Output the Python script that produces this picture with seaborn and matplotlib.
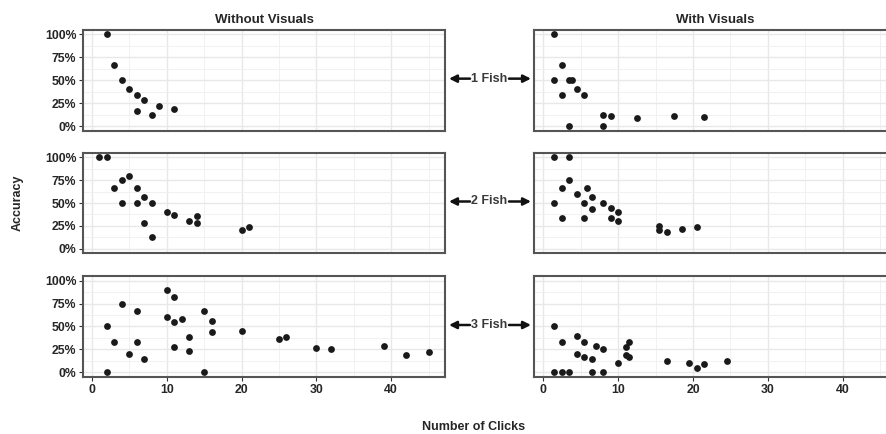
import matplotlib
matplotlib.use("Agg")
import matplotlib.pyplot as plt
import seaborn as sns
import pandas as pd
from matplotlib.ticker import FixedLocator

sns.set_theme(style="white")
plt.rcParams['font.family'] = ['Liberation Sans', 'DejaVu Sans']

# ---------------- data ----------------
conditions = ["Without Visuals", "With Visuals"]
fish_labels = ["1 Fish", "2 Fish", "3 Fish"]
x_ticks = [0, 10, 20, 30, 40]
x_minor = [5, 15, 25, 35, 45]
y_ticks = [0, 0.25, 0.5, 0.75, 1.0]
y_minor = [0.125, 0.375, 0.625, 0.875]
y_tick_labels = ["0%", "25%", "50%", "75%", "100%"]

wo1_clicks = [2, 3, 4, 5, 6, 6, 7, 8, 9, 11]
wo1_acc = [1.0, 0.667, 0.5, 0.4, 0.333, 0.167, 0.286, 0.125, 0.222, 0.182]

wv1_clicks = [1.5, 2.5, 1.5, 3.5, 3.9, 4.5, 2.5, 5.5, 8, 9, 12.5, 17.5, 21.5, 3.5, 8]
wv1_acc = [1.0, 0.667, 0.5, 0.5, 0.5, 0.4, 0.333, 0.333, 0.125, 0.111, 0.083, 0.111, 0.1, 0.0, 0.0]

wo2_clicks = [1, 2, 3, 4, 4, 5, 6, 6, 7, 7, 8, 8, 10, 11, 13, 14, 14, 20, 21]
wo2_acc = [1.0, 1.0, 0.667, 0.75, 0.5, 0.8, 0.667, 0.5, 0.571, 0.286, 0.5, 0.125,
           0.4, 0.364, 0.308, 0.357, 0.286, 0.2, 0.238]

wv2_clicks = [1.5, 3.5, 3.5, 2.5, 4.5, 5.9, 6.5, 1.5, 5.5, 8, 6.5, 9, 10, 2.5, 5.5,
              9, 10, 15.5, 15.5, 16.5, 18.5, 20.5]
wv2_acc = [1.0, 1.0, 0.75, 0.667, 0.6, 0.667, 0.571, 0.5, 0.5, 0.5, 0.429, 0.444,
           0.4, 0.333, 0.333, 0.333, 0.3, 0.25, 0.2, 0.182, 0.211, 0.24]

wo3_clicks = [2, 2, 3, 4, 5, 6, 6, 7, 10, 10, 11, 11, 11, 12, 13, 13, 15, 15, 16, 16,
              20, 25, 26, 30, 32, 39, 42, 45]
wo3_acc = [0.0, 0.5, 0.333, 0.75, 0.2, 0.667, 0.333, 0.143, 0.9, 0.6, 0.818, 0.545,
           0.273, 0.583, 0.385, 0.231, 0.667, 0.0, 0.5625, 0.4375, 0.45, 0.364, 0.385,
           0.267, 0.25, 0.282, 0.19, 0.222]

wv3_clicks = [1.5, 1.5, 2.5, 3.5, 2.5, 4.5, 4.5, 5.5, 5.5, 6.5, 6.5, 7, 8, 8, 10, 11,
              11, 11.5, 11.5, 16.5, 19.5, 20.5, 21.5, 24.5]
wv3_acc = [0.5, 0.0, 0.0, 0.0, 0.333, 0.4, 0.2, 0.333, 0.167, 0.143, 0.0, 0.287, 0.25,
           0.0, 0.1, 0.276, 0.189, 0.333, 0.167, 0.12, 0.105, 0.05, 0.095, 0.124]

panels = {
    ("Without Visuals", "1 Fish"): (wo1_clicks, wo1_acc),
    ("With Visuals", "1 Fish"): (wv1_clicks, wv1_acc),
    ("Without Visuals", "2 Fish"): (wo2_clicks, wo2_acc),
    ("With Visuals", "2 Fish"): (wv2_clicks, wv2_acc),
    ("Without Visuals", "3 Fish"): (wo3_clicks, wo3_acc),
    ("With Visuals", "3 Fish"): (wv3_clicks, wv3_acc),
}
frames = []
for (cond, fish), (cx, ay) in panels.items():
    frames.append(pd.DataFrame({"condition": cond, "fish": fish,
                                "clicks": cx, "accuracy": ay}))
df = pd.concat(frames, ignore_index=True)

# ---------------- layout ----------------
W, H = 887, 434
fig = plt.figure(figsize=(W / 100, H / 100), dpi=100)

col_x = [(83, 362), (534, 363)]
row_y = [(29.7, 130.6), (152.7, 253.3), (276.1, 376.9)]

text_col = "#262626"
point_col = "#1a1a1a"

for r, fish in enumerate(fish_labels):
    t, b = row_y[r]
    for c, cond in enumerate(conditions):
        x0, w = col_x[c]
        ax = fig.add_axes([x0 / W, 1 - b / H, w / W, (b - t) / H])
        sub = df[(df.condition == cond) & (df.fish == fish)]
        sns.scatterplot(data=sub, x="clicks", y="accuracy", ax=ax,
                        color=point_col, s=24, linewidth=0, zorder=3, legend=False)
        ax.set_xlim(-1.2, 47.2)
        ax.set_ylim(-0.05, 1.05)
        ax.set_xlabel("")
        ax.set_ylabel("")
        ax.xaxis.set_major_locator(FixedLocator(x_ticks))
        ax.xaxis.set_minor_locator(FixedLocator(x_minor))
        ax.yaxis.set_major_locator(FixedLocator(y_ticks))
        ax.yaxis.set_minor_locator(FixedLocator(y_minor))
        ax.grid(True, which="major", color="#E8E8E8", linewidth=1.0, zorder=0)
        ax.grid(True, which="minor", color="#F1F1F1", linewidth=0.7, zorder=0)
        ax.set_axisbelow(True)
        for s in ax.spines.values():
            s.set_color("#555555")
            s.set_linewidth(1.5)
        ax.tick_params(which="minor", length=0)
        ax.tick_params(which="major", length=2.8, width=0.8, color="#333333",
                       labelsize=8.8, labelcolor=text_col, pad=2)
        ax.tick_params(axis="both", which="major", direction="out")
        if c == 0:
            ax.set_yticklabels(y_tick_labels, fontweight="bold")
            ax.tick_params(axis="y", left=True)
        else:
            ax.tick_params(axis="y", left=False, labelleft=False)
        if r == 2:
            ax.set_xticklabels([str(v) for v in x_ticks], fontweight="bold")
            ax.tick_params(axis="x", bottom=True)
        else:
            ax.tick_params(axis="x", bottom=False, labelbottom=False)
        if r == 0:
            ax.set_title(cond, fontsize=9.5, fontweight="bold", color=text_col, pad=5)

    # middle facet labels with arrows
    yc = 1 - ((t + b) / 2 - 1.5) / H
    fig.text(489 / W, yc, fish, ha="center", va="center", fontsize=9,
             fontweight="bold", color="#3a3a3a")
    fig.axes[0].annotate("", xy=(449 / W, yc), xytext=(470 / W, yc),
                         xycoords="figure fraction", textcoords="figure fraction",
                         arrowprops=dict(arrowstyle="-|>", color="#111111", lw=1.8,
                                         mutation_scale=11, shrinkA=0, shrinkB=0),
                         annotation_clip=False)
    fig.axes[0].annotate("", xy=(531 / W, yc), xytext=(509 / W, yc),
                         xycoords="figure fraction", textcoords="figure fraction",
                         arrowprops=dict(arrowstyle="-|>", color="#111111", lw=1.8,
                                         mutation_scale=11, shrinkA=0, shrinkB=0),
                         annotation_clip=False)

fig.text(18 / W, 1 - 203 / H, "Accuracy", rotation=90, ha="center", va="center",
         fontsize=9, fontweight="bold", color=text_col)
fig.text(473.5 / W, 1 - 427.5 / H, "Number of Clicks", ha="center", va="center",
         fontsize=9, fontweight="bold", color=text_col)

fig.savefig("out.png", dpi=100)
